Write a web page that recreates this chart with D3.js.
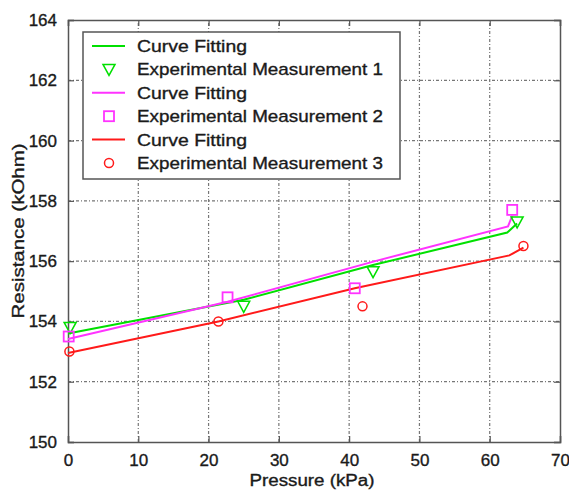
<!DOCTYPE html>
<html>
<head>
<meta charset="utf-8">
<script src="https://cdn.jsdelivr.net/npm/d3@7"></script>
<style>
  body { margin: 0; background: #fff; }
  text { font-family: "Liberation Sans", Arial, sans-serif; fill: #1a1a1a; stroke: #1a1a1a; stroke-width: 0.35px; }
</style>
</head>
<body>
<div id="chart"></div>
<script>
var width = 569, height = 491
var margin = {left: 68, right: 9, top: 20, bottom: 49}

// measured points (pressure kPa, resistance kOhm)
var meas1 = [[0.3, 153.8], [25.0, 154.5], [43.4, 155.65], [63.9, 157.3]]
var meas2 = [[0.1, 153.5], [22.7, 154.8], [40.8, 155.1], [63.2, 157.7]]
var meas3 = [[0.2, 153.0], [21.4, 154.0], [41.9, 154.5], [64.8, 156.5]]

// fitted curves
var fit1 = [[0, 153.6], [25.0, 154.72], [43.4, 155.87], [62.5, 156.95], [63.9, 157.25]]
var fit2 = [[0, 153.42], [22.7, 154.65], [43.7, 156.0], [62.6, 157.15], [63.2, 157.5]]
var fit3 = [[0, 152.95], [21.4, 154.0], [40.8, 155.1], [62.8, 156.19], [64.8, 156.45]]

var xTicks = [0, 10, 20, 30, 40, 50, 60, 70]
var yTicks = [150, 152, 154, 156, 158, 160, 162, 164]

var legendLabels = ["Curve Fitting", "Experimental Measurement 1", "Curve Fitting",
                    "Experimental Measurement 2", "Curve Fitting", "Experimental Measurement 3"]

var green = "#00e000", magenta = "#ff33ff", red = "#ff1a1a"
var axisColor = "#555"

var svg = d3.select("#chart").append("svg").attr("width", width).attr("height", height)

var x = d3.scaleLinear().domain([0, 70]).range([margin.left, width - margin.right])
var y = d3.scaleLinear().domain([150, 164]).range([height - margin.bottom, margin.top])

// grid
svg.append("g").selectAll("line").data(xTicks.slice(1, -1)).enter().append("line")
  .attr("x1", d => x(d)).attr("x2", d => x(d))
  .attr("y1", y(150)).attr("y2", y(164))
  .attr("stroke", "#777").attr("stroke-width", 1.2).attr("stroke-dasharray", "3,2,1,2")
svg.append("g").selectAll("line").data(yTicks.slice(1, -1)).enter().append("line")
  .attr("y1", d => y(d)).attr("y2", d => y(d))
  .attr("x1", x(0)).attr("x2", x(70))
  .attr("stroke", "#777").attr("stroke-width", 1.2).attr("stroke-dasharray", "3,2,1,2")

// axes
var xAxis = svg.append("g").attr("transform", "translate(0," + y(150) + ")")
  .call(d3.axisBottom(x).tickValues(xTicks).tickSize(-6).tickPadding(12).tickFormat(d3.format("d")))
var xAxisTop = svg.append("g").attr("transform", "translate(0," + y(164) + ")")
  .call(d3.axisTop(x).tickValues(xTicks).tickSize(-6).tickFormat(""))
var yAxis = svg.append("g").attr("transform", "translate(" + x(0) + ",0)")
  .call(d3.axisLeft(y).tickValues(yTicks).tickSize(-6).tickPadding(11).tickFormat(d3.format("d")))
var yAxisRight = svg.append("g").attr("transform", "translate(" + x(70) + ",0)")
  .call(d3.axisRight(y).tickValues(yTicks).tickSize(-6).tickFormat(""))

;[xAxis, xAxisTop, yAxis, yAxisRight].forEach(function(g) {
  g.selectAll("path").attr("stroke", axisColor).attr("stroke-width", 1.5)
  g.selectAll("line").attr("stroke", axisColor).attr("stroke-width", 1.2)
  g.selectAll("text").style("font-size", "17px").attr("fill", "#1a1a1a")
    .style("font-family", "'Liberation Sans', Arial, sans-serif")
    .attr("stroke", "#1a1a1a").attr("stroke-width", 0.35)
})

// curves
var line = d3.line().x(d => x(d[0])).y(d => y(d[1]))
;[[fit1, green], [fit2, magenta], [fit3, red]].forEach(function(s) {
  svg.append("path").datum(s[0]).attr("d", line)
    .attr("fill", "none").attr("stroke", s[1]).attr("stroke-width", 2)
})

function triangle(g, cx, cy, col) {
  g.append("path").attr("d", "M" + (cx - 6) + "," + (cy - 5) + "L" + (cx + 6) + "," + (cy - 5) + "L" + cx + "," + (cy + 6) + "Z")
    .attr("fill", "none").attr("stroke", col).attr("stroke-width", 1.5)
}
function square(g, cx, cy, col) {
  g.append("rect").attr("x", cx - 5).attr("y", cy - 5).attr("width", 10).attr("height", 10)
    .attr("fill", "none").attr("stroke", col).attr("stroke-width", 1.8)
}
function circle(g, cx, cy, col) {
  g.append("circle").attr("cx", cx).attr("cy", cy).attr("r", 4.5)
    .attr("fill", "none").attr("stroke", col).attr("stroke-width", 1.5)
}

var marks = svg.append("g")
meas1.forEach(d => triangle(marks, x(d[0]), y(d[1]), green))
meas2.forEach(d => square(marks, x(d[0]), y(d[1]), magenta))
meas3.forEach(d => circle(marks, x(d[0]), y(d[1]), red))

// legend
var leg = svg.append("g")
leg.append("rect").attr("x", 83).attr("y", 32).attr("width", 317).attr("height", 147)
  .attr("fill", "#fff").attr("stroke", "#555").attr("stroke-width", 1.5)
var rowY = d3.scaleLinear().domain([0, 5]).range([46, 163])
var legendKeys = ["line", "tri", "line", "sq", "line", "circ"]
var legendCols = [green, green, magenta, magenta, red, red]
legendLabels.forEach(function(t, i) {
  var cy = rowY(i), col = legendCols[i]
  if (legendKeys[i] === "line") {
    leg.append("line").attr("x1", 92).attr("x2", 125).attr("y1", cy).attr("y2", cy)
      .attr("stroke", col).attr("stroke-width", 2)
  } else if (legendKeys[i] === "tri") triangle(leg, 109, cy, col)
  else if (legendKeys[i] === "sq") square(leg, 109, cy, col)
  else circle(leg, 109, cy, col)
  leg.append("text").attr("x", 137).attr("y", cy + 6).style("font-size", "17px")
    .attr("textLength", t.length > 15 ? 246 : 110).attr("lengthAdjust", "spacingAndGlyphs")
    .text(t)
})

// axis labels
svg.append("text").attr("x", 312).attr("y", 486).attr("text-anchor", "middle")
  .style("font-size", "16px").attr("textLength", 125).attr("lengthAdjust", "spacingAndGlyphs")
  .text("Pressure (kPa)")
svg.append("text").attr("transform", "translate(24,231) rotate(-90)").attr("text-anchor", "middle")
  .style("font-size", "16px").attr("textLength", 175).attr("lengthAdjust", "spacingAndGlyphs")
  .text("Resistance (kOhm)")
</script>
</body>
</html>
